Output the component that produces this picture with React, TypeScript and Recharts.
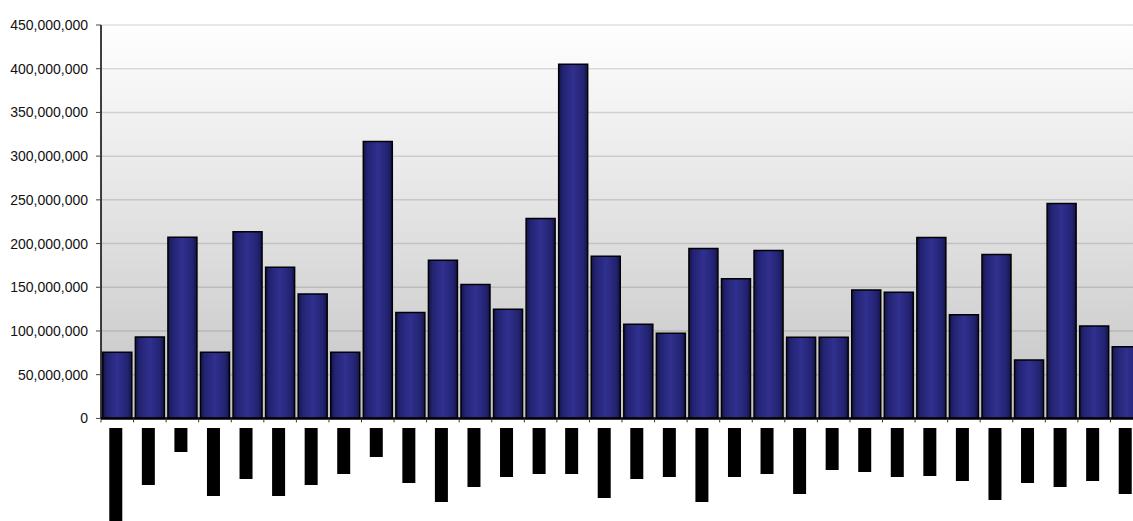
import React from 'react';
import { BarChart, Bar, XAxis, YAxis, CartesianGrid } from 'recharts';

// category keys (labels are printed as solid blocks under the axis)
const categories = [
  'c01', 'c02', 'c03', 'c04', 'c05', 'c06', 'c07', 'c08',
  'c09', 'c10', 'c11', 'c12', 'c13', 'c14', 'c15', 'c16',
  'c17', 'c18', 'c19', 'c20', 'c21', 'c22', 'c23', 'c24',
  'c25', 'c26', 'c27', 'c28', 'c29', 'c30', 'c31', 'c32',
];

const amounts = [
  75600000, 93200000, 207300000, 75600000, 213400000, 172900000, 142400000, 75600000,
  316800000, 121000000, 180900000, 153100000, 124800000, 228700000, 405000000, 185500000,
  107600000, 97300000, 194300000, 159600000, 192000000, 92800000, 92800000, 147000000,
  144300000, 206900000, 118700000, 187400000, 66800000, 245800000, 105800000, 82100000,
];

// length of each category label block, in px
const labelLengths = [
  93, 57, 24, 68, 51, 68, 57, 46,
  29, 55, 74, 59, 49, 46, 46, 70,
  51, 49, 74, 49, 46, 66, 42, 44,
  49, 48, 53, 72, 55, 59, 53, 66,
];

const yTicks = [0, 50000000, 100000000, 150000000, 200000000, 250000000, 300000000, 350000000, 400000000, 450000000];

const data = categories.map((name, i) => ({ name, amount: amounts[i] }));

const CHART_W = 1143;
const CHART_H = 521;
const AXIS_W = 101;
const CAT_W = (CHART_W - AXIS_W) / categories.length;

const font = '"Liberation Sans", Arial, sans-serif';

function LabelBlock(props: any) {
  const { x, y, index } = props;
  const left = x - CAT_W / 2;
  return (
    <g>
      <line x1={left} x2={left} y1={y} y2={y + 4} stroke="#333" strokeWidth={1} />
      {index === categories.length - 1 && (
        <line x1={left + CAT_W} x2={left + CAT_W} y1={y} y2={y + 4} stroke="#333" strokeWidth={1} />
      )}
      <rect x={x - 8} y={y + 9.6} width={13} height={labelLengths[index]} fill="#000" />
    </g>
  );
}

export default function App() {
  return (
    <div style={{ position: 'fixed', left: 0, top: 0, width: 1133, height: 521, overflow: 'hidden', background: '#fff' }}>
      <BarChart
        width={CHART_W}
        height={CHART_H}
        data={data}
        margin={{ top: 25, right: 0, left: 0, bottom: 0 }}
        barCategoryGap={1.8}
      >
        <defs>
          <linearGradient id="plotBg" x1="0" y1="0" x2="0" y2="1">
            <stop offset="0%" stopColor="#ffffff" />
            <stop offset="100%" stopColor="#c4c4c4" />
          </linearGradient>
          <linearGradient id="barFill" x1="0" y1="0" x2="1" y2="0">
            <stop offset="0%" stopColor="#14144a" />
            <stop offset="15%" stopColor="#232372" />
            <stop offset="50%" stopColor="#30308f" />
            <stop offset="85%" stopColor="#232372" />
            <stop offset="100%" stopColor="#14144a" />
          </linearGradient>
        </defs>
        <CartesianGrid
          vertical={false}
          fill="url(#plotBg)"
          fillOpacity={1}
          stroke="rgba(0,0,0,0.13)"
          strokeWidth={1.5}
        />
        <XAxis
          dataKey="name"
          height={CHART_H - 25 - 393.4}
          interval={0}
          tickLine={false}
          tickSize={0}
          tickMargin={0}
          axisLine={{ stroke: '#000', strokeWidth: 2.5 }}
          tick={<LabelBlock />}
        />
        <YAxis
          width={AXIS_W}
          domain={[0, 450000000]}
          ticks={yTicks}
          interval={0}
          allowDataOverflow
          tickSize={5}
          tickMargin={8}
          axisLine={{ stroke: '#000', strokeWidth: 1.5 }}
          tickLine={{ stroke: '#444' }}
          tick={{ fill: '#111', fontSize: 14, fontFamily: font }}
          tickFormatter={(v: number) => v.toLocaleString('en-US')}
        />
        <Bar
          dataKey="amount"
          fill="url(#barFill)"
          stroke="#000"
          strokeWidth={1.5}
          isAnimationActive={false}
        />
      </BarChart>
    </div>
  );
}
